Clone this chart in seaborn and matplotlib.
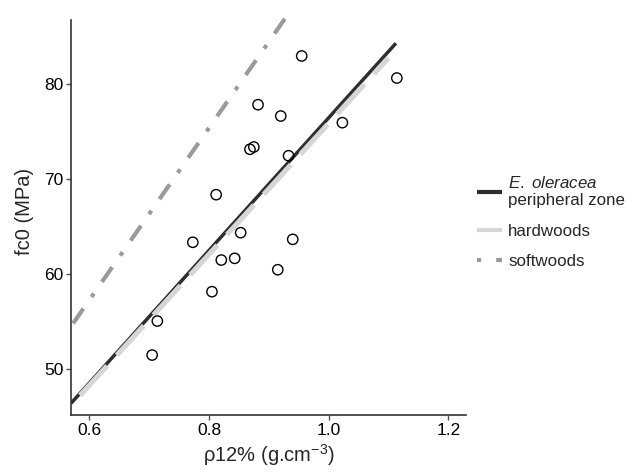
import matplotlib
matplotlib.use("Agg")
import matplotlib.pyplot as plt
from matplotlib.lines import Line2D
import pandas as pd
import seaborn as sns

# measured points: density at 12% moisture vs compression strength
rho = [0.955, 1.114, 0.882, 0.920, 1.023, 0.8685, 0.875, 0.933, 0.812,
       0.853, 0.773, 0.940, 0.8206, 0.843, 0.915, 0.805, 0.7137, 0.705]
fc0 = [82.98, 80.66, 77.85, 76.66, 75.96, 73.16, 73.4, 72.48, 68.38,
       64.38, 63.37, 63.68, 61.5, 61.68, 60.48, 58.17, 55.08, 51.5]

# end points of the three reference lines
olea_x = [0.5694, 1.1125]
olea_y = [46.42, 84.32]
hard_x = [0.5845, 1.0996]
hard_y = [47.25, 82.75]
soft_x = [0.573, 0.935]
soft_y = [54.84, 87.64]

x_ticks = [0.6, 0.8, 1.0, 1.2]
x_labels = ["0.6", "0.8", "1.0", "1.2"]
y_ticks = [50, 60, 70, 80]

sns.set_theme(style="ticks")
plt.rcParams['font.family'] = ['Liberation Sans', 'DejaVu Sans']
plt.rcParams['mathtext.fontset'] = 'custom'
plt.rcParams['mathtext.rm'] = 'Liberation Sans'
plt.rcParams['mathtext.it'] = 'Liberation Sans:italic'

dark = '#2e2e2e'
light = '#d6d6d6'
mid = '#9a9a9a'

fig = plt.figure(figsize=(6.33, 4.72), dpi=100)
ax = fig.add_axes([71 / 633, 57 / 472, 395 / 633, 407 / 472])

df = pd.DataFrame({'rho': rho, 'fc0': fc0})

sns.lineplot(x=olea_x, y=olea_y, ax=ax, color=dark, linewidth=2.5,
             solid_capstyle='butt', zorder=2)
sns.lineplot(x=hard_x, y=hard_y, ax=ax, color=light, linewidth=3.7,
             linestyle=(0, (7.8, 2.8)), dash_capstyle='butt', zorder=3)
sns.lineplot(x=soft_x, y=soft_y, ax=ax, color=mid, linewidth=3.0,
             linestyle=(0, (4.3, 3.4, 1.0, 3.4)), dash_capstyle='butt', zorder=3)
sns.scatterplot(data=df, x='rho', y='fc0', ax=ax, s=55, marker='o',
                facecolor='none', edgecolor='black', linewidth=1.0, zorder=4)

ax.set_xlim(0.5694, 1.2296)
ax.set_ylim(45.19, 88.03)
ax.set_xticks(x_ticks)
ax.set_xticklabels(x_labels)
ax.set_yticks(y_ticks)

for side in ['top', 'right']:
    ax.spines[side].set_visible(False)
for side in ['left', 'bottom']:
    ax.spines[side].set_color('#333333')
    ax.spines[side].set_linewidth(1.2)
ax.spines['left'].set_bounds(45.19, 86.77)

ax.tick_params(axis='both', length=3.5, width=1.0, color='#555555',
               labelsize=12.5, labelcolor='black', pad=2)

ax.set_xlabel(r"ρ12% (g.cm$^{-3}$)", fontsize=14.5, labelpad=3)
ax.set_ylabel("fc0 (MPa)", fontsize=14.5, labelpad=7)

handles = [
    Line2D([], [], color=dark, linewidth=3.0, solid_capstyle='butt'),
    Line2D([], [], color=light, linewidth=3.0, solid_capstyle='butt'),
    Line2D([], [], color=mid, linewidth=3.0, dash_capstyle='butt',
           linestyle=(0, (1.0, 3.6, 4.3, 3.6))),
]
labels = [r"$\it{E.}$ $\it{oleracea}$" + "\nperipheral zone", "hardwoods", "softwoods"]
fig.legend(handles, labels, loc='center left', bbox_to_anchor=(477 / 633, 1 - 222 / 472),
           frameon=False, fontsize=12.2, handlelength=1.45, handletextpad=0.4,
           labelspacing=0.9, borderpad=0, borderaxespad=0)

fig.savefig("out.png", dpi=100)
